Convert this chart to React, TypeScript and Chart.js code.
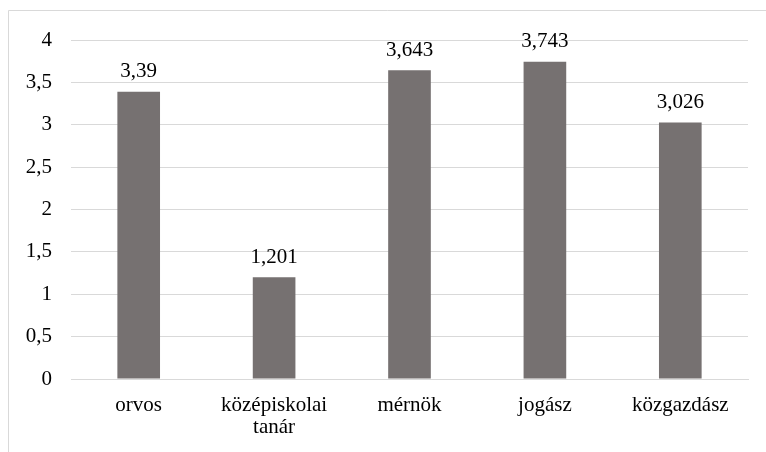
import React, { useEffect, useRef } from "react";
import { Chart, registerables } from "chart.js";

Chart.register(...registerables);

const categories: (string | string[])[] = ["orvos", ["középiskolai", "tanár"], "mérnök", "jogász", "közgazdász"];
const values: number[] = [3.39, 1.201, 3.643, 3.743, 3.026];
const yTicks: number[] = [0, 0.5, 1, 1.5, 2, 2.5, 3, 3.5, 4];

const FONT = "'Liberation Serif', 'Times New Roman', serif";
const FONT_SIZE = 21;
const fmt = (v: number) => String(v).replace(".", ",");

const borderPlugin = {
  id: "outerBorder",
  beforeDraw(chart: any) {
    const ctx = chart.ctx;
    ctx.save();
    ctx.fillStyle = "#ffffff";
    ctx.fillRect(0, 0, chart.width, chart.height);
    ctx.strokeStyle = "#d9d9d9";
    ctx.lineWidth = 1;
    ctx.beginPath();
    ctx.moveTo(8.5, chart.height + 5);
    ctx.lineTo(8.5, 10.5);
    ctx.lineTo(chart.width + 5, 10.5);
    ctx.stroke();
    ctx.restore();
  },
};

const labelPlugin = {
  id: "valueLabels",
  afterDatasetsDraw(chart: any) {
    const ctx = chart.ctx;
    const meta = chart.getDatasetMeta(0);
    ctx.save();
    ctx.font = `${FONT_SIZE}px ${FONT}`;
    ctx.fillStyle = "#000000";
    ctx.textAlign = "center";
    ctx.textBaseline = "alphabetic";
    meta.data.forEach((bar: any, i: number) => {
      ctx.fillText(fmt(values[i]), bar.x, bar.y - 14.5);
    });
    ctx.restore();
  },
};

export default function App() {
  const ref = useRef<HTMLCanvasElement>(null);
  useEffect(() => {
    document.body.style.margin = "0";
    const chart = new Chart(ref.current!, {
      type: "bar",
      data: {
        labels: categories,
        datasets: [
          {
            data: values,
            backgroundColor: "#767171",
            barPercentage: 0.315,
            categoryPercentage: 1,
          },
        ],
      },
      options: {
        animation: false,
        responsive: false,
        devicePixelRatio: 1,
        layout: { padding: { top: 40, right: 18, left: 0, bottom: 0 } },
        plugins: { legend: { display: false }, tooltip: { enabled: false } },
        scales: {
          x: {
            grid: { display: false, drawTicks: false },
            border: { color: "#d9d9d9", width: 1 },
            ticks: {
              color: "#000000",
              font: { family: FONT, size: FONT_SIZE, lineHeight: 1.05 },
              padding: 15,
              maxRotation: 0,
              autoSkip: false,
            },
            afterFit(scale: any) {
              scale.height = 73;
            },
          },
          y: {
            min: 0,
            max: 4,
            grid: { color: "#d9d9d9", lineWidth: 1, drawTicks: false },
            border: { display: false },
            afterBuildTicks(scale: any) {
              scale.ticks = yTicks.map((v) => ({ value: v }));
            },
            ticks: {
              color: "#000000",
              font: { family: FONT, size: FONT_SIZE },
              padding: 19,
              callback: (v: any) => fmt(Number(v)),
            },
            afterFit(scale: any) {
              scale.width = 71;
            },
          },
        },
      },
      plugins: [borderPlugin, labelPlugin],
    });
    return () => chart.destroy();
  }, []);
  return (
    <div style={{ position: "absolute", left: 0, top: 0, width: 766, height: 452 }}>
      <canvas ref={ref} width={766} height={452} style={{ width: 766, height: 452 }} />
    </div>
  );
}
